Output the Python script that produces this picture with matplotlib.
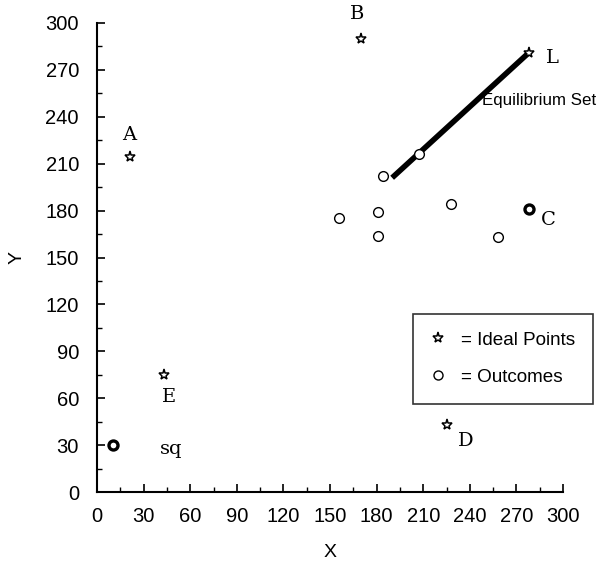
import matplotlib
matplotlib.use("Agg")
import matplotlib.pyplot as plt
from matplotlib.lines import Line2D
from matplotlib.ticker import MultipleLocator

# ideal points (stars)
ideal_names = ["A", "B", "L", "E", "D"]
ideal_x = [21, 170, 278, 43, 225]
ideal_y = [214, 290, 281, 75, 43]

# outcomes (open circles)
outcome_x = [184, 207, 181, 181, 156, 228, 258]
outcome_y = [202, 216, 179, 164, 175, 184, 163]

# bold outcomes: C and status quo
bold_names = ["C", "sq"]
bold_x = [278, 10]
bold_y = [181, 30]

# equilibrium set segment
eq_x = [190, 278]
eq_y = [201, 281]

ticks = list(range(0, 301, 30))

label_font = "DejaVu Serif"
sans_font = "Liberation Sans"


def main():
    fig = plt.figure(figsize=(6.12, 5.66), dpi=100)
    ax = fig.add_axes([97 / 612, 74 / 566, 466 / 612, 469 / 566])

    ax.plot(eq_x, eq_y, color="black", linewidth=4, solid_capstyle="butt", zorder=2)

    ax.plot(outcome_x, outcome_y, linestyle="none", marker="o", markersize=7,
            mfc="white", mec="black", mew=1.0, zorder=3)
    ax.plot(bold_x, bold_y, linestyle="none", marker="o", markersize=6.5,
            mfc="white", mec="black", mew=2.4, zorder=3)
    ax.plot(ideal_x, ideal_y, linestyle="none", marker="*", markersize=8,
            mfc="white", mec="black", mew=1.1, zorder=4)

    # point labels
    offsets = {"A": (0, 16), "B": (-3, 18), "L": (17, -4), "E": (4, -16),
               "D": (14, -12), "C": (14, -8), "sq": (42, -3)}
    for n, x, y in zip(ideal_names + bold_names, ideal_x + bold_x, ideal_y + bold_y):
        dx, dy = offsets[n]
        ax.annotate(n, (x, y), xytext=(dx, dy), textcoords="offset points",
                    ha="center", va="center", fontsize=14, family=label_font,
                    fontweight="light")

    ax.text(482 / 612, 1 - 101 / 566, "Equilibrium Set", transform=fig.transFigure,
            fontsize=12.2, family=sans_font, va="center", ha="left")

    handles = [
        Line2D([], [], linestyle="none", marker="*", markersize=8,
               mfc="white", mec="black", mew=1.1),
        Line2D([], [], linestyle="none", marker="o", markersize=6.5,
               mfc="white", mec="black", mew=1.0),
    ]
    leg = ax.legend(handles, ["= Ideal Points", "= Outcomes"],
                    loc="lower left", bbox_to_anchor=(0.678, 0.188),
                    prop={"family": sans_font, "size": 13.6},
                    frameon=True, fancybox=False, edgecolor="black",
                    handlelength=0.8, handletextpad=0.8, labelspacing=1.05,
                    borderpad=0.95, borderaxespad=0)
    leg.get_frame().set_linewidth(1.2)
    leg.set_clip_on(False)

    ax.set_xlim(0, 300)
    ax.set_ylim(0, 300)
    ax.set_xticks(ticks)
    ax.set_yticks(ticks)
    ax.xaxis.set_minor_locator(MultipleLocator(15))
    ax.yaxis.set_minor_locator(MultipleLocator(15))
    ax.tick_params(which="major", direction="in", length=6, width=1.2,
                   labelsize=14.5)
    ax.tick_params(which="minor", direction="in", length=3.5, width=1.0)
    for lab in ax.get_xticklabels() + ax.get_yticklabels():
        lab.set_family(sans_font)
    ax.tick_params(axis="x", pad=11)
    ax.tick_params(axis="y", pad=13)

    ax.spines["top"].set_visible(False)
    ax.spines["right"].set_visible(False)
    ax.spines["left"].set_linewidth(1.5)
    ax.spines["bottom"].set_linewidth(1.5)

    ax.set_xlabel("X", fontsize=14, family=sans_font, labelpad=13)
    ax.set_ylabel("Y", fontsize=14, family=sans_font, labelpad=14)

    fig.savefig("out.png", dpi=100)


if __name__ == '__main__':
    main()
